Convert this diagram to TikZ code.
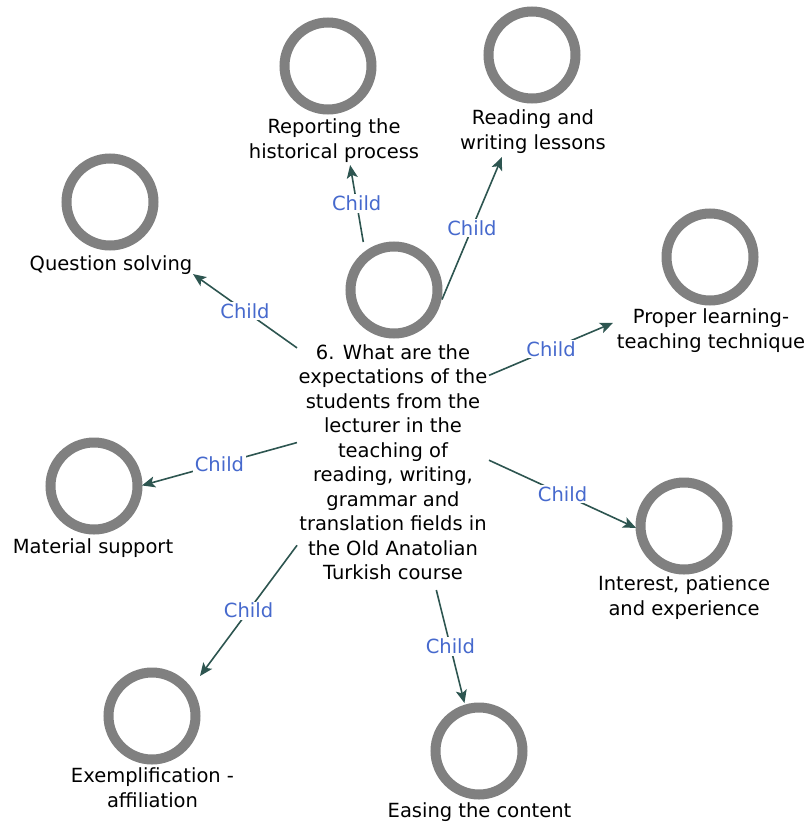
\documentclass[tikz,border=0pt]{standalone}
\usepackage{fontspec}
\setmainfont{DejaVu Sans}
\usetikzlibrary{arrows.meta}
\definecolor{ringgray}{RGB}{128,128,128}
\definecolor{edgeteal}{RGB}{45,85,80}
\definecolor{childblue}{RGB}{70,105,205}
\begin{document}
\begin{tikzpicture}[x=1pt,y=-1pt,
  ring/.style={circle,draw=ringgray,line width=10pt,minimum size=87pt,inner sep=0pt},
  caption/.style={align=center,font=\fontsize{19.5}{24.5}\selectfont,inner sep=0pt},
  link/.style={draw=edgeteal,line width=1.6pt,-{Stealth[length=13pt,width=11pt,inset=3pt]}},
  childlbl/.style={fill=white,text=childblue,font=\fontsize{19.5}{24.5}\selectfont,inner sep=1.5pt}]
\useasboundingbox (0,0) rectangle (806,825);

% central question
\node[ring] (hubRing) at (394,290) {};
\node[caption] (hubText) at (393,462) {6. What are the\\expectations of the\\students from the\\lecturer in the\\teaching of\\reading, writing,\\grammar and\\translation fields in\\the Old Anatolian\\Turkish course};

% answers: ring and caption
\node[ring] (repRing) at (328,66) {};
\node[caption] (repText) at (334,140.5) {Reporting the\\historical process};
\node[ring] (readRing) at (532,55) {};
\node[caption] (readText) at (533,131.5) {Reading and\\writing lessons};
\node[ring] (qRing) at (110,202) {};
\node[caption] (qText) at (111,265) {Question solving};
\node[ring] (propRing) at (710,257) {};
\node[caption] (propText) at (711,330.5) {Proper learning-\\teaching technique};
\node[ring] (matRing) at (94,486) {};
\node[caption] (matText) at (93,548) {Material support};
\node[ring] (intRing) at (684,526) {};
\node[caption] (intText) at (684,597.5) {Interest, patience\\and experience};
\node[ring] (exRing) at (152,716) {};
\node[caption] (exText) at (152.5,787.5) {Exemplification -\\affiliation};
\node[ring] (easeRing) at (479,751) {};
\node[caption] (easeText) at (479.5,812) {Easing the content};

% centres of each ring+caption group
\coordinate (hubC) at (393,416);
\coordinate (repC) at (337.5,91);
\coordinate (readC) at (533.5,82);
\coordinate (qC) at (110.5,215.5);
\coordinate (propC) at (709.5,282);
\coordinate (matC) at (93,499);
\coordinate (intC) at (684,550);
\coordinate (exC) at (152.5,740);
\coordinate (easeC) at (479.5,763.5);

% connectors, trimmed to the group outlines
\draw[link,shorten <=176.5pt,shorten >=75.1pt] (hubC) -- node[childlbl,pos=0.6538] {Child} (repC);
\draw[link,shorten <=126.4pt,shorten >=81.4pt] (hubC) -- node[childlbl,pos=0.5621] {Child} (readC);
\draw[link,shorten <=117.7pt,shorten >=101.2pt] (hubC) -- node[childlbl,pos=0.5238] {Child} (qC);
\draw[link,shorten <=104.3pt,shorten >=104.8pt] (hubC) -- node[childlbl,pos=0.4993] {Child} (propC);
\draw[link,shorten <=99.6pt,shorten >=50.8pt] (hubC) -- node[childlbl,pos=0.5784] {Child} (matC);
\draw[link,shorten <=105.7pt,shorten >=52.8pt] (hubC) -- node[childlbl,pos=0.5826] {Child} (intC);
\draw[link,shorten <=161pt,shorten >=79.7pt] (hubC) -- node[childlbl,pos=0.6007] {Child} (exC);
\draw[link,shorten <=179.3pt,shorten >=62.3pt] (hubC) -- node[childlbl,pos=0.6634] {Child} (easeC);
\end{tikzpicture}
\end{document}
